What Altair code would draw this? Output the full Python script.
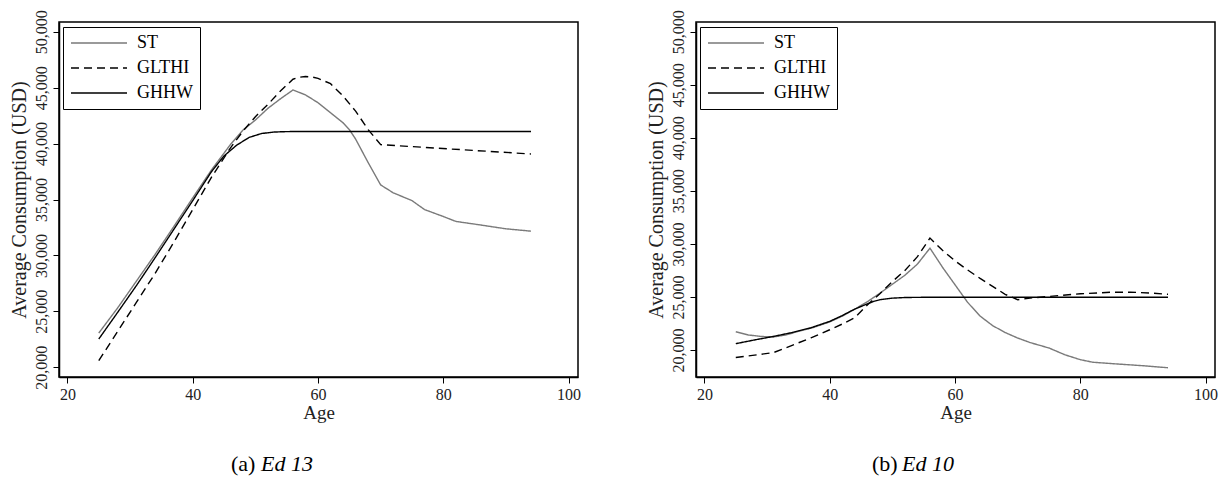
import altair as alt
import pandas as pd

SERIES = ["ST", "GLTHI", "GHHW"]
COLORS = ["#7a7a7a", "#000000", "#000000"]
DASHES = [[1, 0], [8, 5], [1, 0]]

# Panel (a) Ed 13
ST_A_AGE = [25, 28, 31, 34, 37, 40, 43, 46, 48, 50, 52, 54, 56, 58, 60, 62, 63, 64, 65, 66, 68, 70, 72, 75, 77, 80, 82, 85,
            90, 94]
ST_A_VAL = [23060, 25300, 27700, 30100, 32600, 35150, 37650, 39900, 41200, 42100, 43150, 44000, 44790, 44350, 43650, 42750,
            42300, 41850, 41250, 40400, 38300, 36300, 35600, 34900, 34100, 33480, 33040, 32800, 32380, 32170]
GLTHI_A_AGE = [25, 28, 31, 34, 37, 40, 43, 46, 48, 50, 52, 54, 56, 57, 58, 59, 60, 62, 64, 66, 68, 70, 94]
GLTHI_A_VAL = [20590, 23200, 25800, 28400, 31200, 34100, 37000, 39600, 41100, 42400, 43500, 44700, 45750, 45930, 46000, 45950,
               45830, 45350, 44250, 42900, 41250, 39900, 39070]
GHHW_A_AGE = [25, 28, 31, 34, 37, 40, 43, 45, 47, 49, 51, 53, 55, 58, 94]
GHHW_A_VAL = [22530, 24900, 27300, 29800, 32350, 34900, 37500, 38900, 39850, 40550, 40900, 41030, 41070, 41080, 41080]

# Panel (b) Ed 10
ST_B_AGE = [25, 27, 29, 31, 33, 35, 37, 40, 42, 44, 46, 48, 50, 52, 54, 56, 58, 60, 62, 64, 66, 68, 70, 72, 75, 77.5, 80, 82,
            85, 90, 94]
ST_B_VAL = [21720, 21420, 21280, 21230, 21420, 21760, 22050, 22650, 23200, 23850, 24550, 25350, 26200, 27050, 28100, 29600,
            27800, 26150, 24500, 23200, 22300, 21650, 21130, 20700, 20190, 19560, 19090, 18850, 18720, 18520, 18330]
GLTHI_B_AGE = [25, 28, 31, 34, 37, 40, 42, 44, 46, 48, 50, 52, 54, 56, 58, 60, 62, 64, 66, 68, 70, 72, 75, 80, 85, 88, 91, 94]
GLTHI_B_VAL = [19300, 19520, 19750, 20440, 21150, 21910, 22450, 23050, 24250, 25300, 26450, 27500, 28800, 30550, 29400, 28400,
               27550, 26750, 26000, 25250, 24740, 24900, 25050, 25300, 25450, 25450, 25380, 25250]
GHHW_B_AGE = [25, 28, 31, 34, 37, 40, 42, 44, 46, 47, 48, 50, 52, 55, 94]
GHHW_B_VAL = [20600, 20950, 21280, 21650, 22100, 22700, 23250, 23860, 24350, 24580, 24740, 24890, 24950, 24970, 24980]

Y_TICKS = [20000, 25000, 30000, 35000, 40000, 45000, 50000]
X_TICKS = [20, 40, 60, 80, 100]
TAGS = ["(a)", "(b)"]
NAMES = ["Ed 13", "Ed 10"]

FONT = "Liberation Serif"


def make_df(parts):
    rows = []
    for name, ages, vals in parts:
        for a, v in zip(ages, vals):
            rows.append({"series": name, "age": a, "value": v})
    return pd.DataFrame(rows)


df_a = make_df([("ST", ST_A_AGE, ST_A_VAL), ("GLTHI", GLTHI_A_AGE, GLTHI_A_VAL), ("GHHW", GHHW_A_AGE, GHHW_A_VAL)])
df_b = make_df([("ST", ST_B_AGE, ST_B_VAL), ("GLTHI", GLTHI_B_AGE, GLTHI_B_VAL), ("GHHW", GHHW_B_AGE, GHHW_B_VAL)])


def panel(df, ydom, tag, name, capx):
    leg = alt.Legend(orient="none", legendX=4, legendY=5, title=None, symbolType="stroke", symbolSize=3136,
                     symbolStrokeWidth=1.4, labelFont=FONT, labelFontSize=18, labelColor="black", labelOffset=9,
                     padding=7, strokeColor="black", fillColor="white", rowPadding=7, clipHeight=18, labelLimit=200)
    lines = alt.Chart(df).mark_line(strokeWidth=1.4, clip=True).encode(
        x=alt.X("age:Q", scale=alt.Scale(domain=[18.65, 101.5], nice=False, zero=False),
                axis=alt.Axis(values=X_TICKS, title="Age", titlePadding=1, labelPadding=3, format="d")),
        y=alt.Y("value:Q", scale=alt.Scale(domain=ydom, nice=False, zero=False),
                axis=alt.Axis(values=Y_TICKS, format=",.0f", labelAngle=-90, labelAlign="center",
                              labelBaseline="bottom", labelPadding=4, title="Average Consumption (USD)",
                              titleFontSize=20, titlePadding=4)),
        color=alt.Color("series:N", scale=alt.Scale(domain=SERIES, range=COLORS), legend=leg),
        strokeDash=alt.StrokeDash("series:N", scale=alt.Scale(domain=SERIES, range=DASHES), legend=leg),
    )
    cap1 = alt.Chart(pd.DataFrame({"t": [tag]})).mark_text(
        align="left", baseline="alphabetic", font=FONT, fontSize=22, color="black"
    ).encode(x=alt.value(capx), y=alt.value(449), text="t:N")
    cap2 = alt.Chart(pd.DataFrame({"t": [name]})).mark_text(
        align="left", baseline="alphabetic", font=FONT, fontSize=22, fontStyle="italic", color="black"
    ).encode(x=alt.value(capx + 30), y=alt.value(449), text="t:N")
    return alt.layer(lines, cap1, cap2).properties(width=519, height=355)


left = panel(df_a, [19134, 50866], TAGS[0], NAMES[0], 172)
right = panel(df_b, [17458, 50913], TAGS[1], NAMES[1], 176)

chart = alt.hconcat(left, right, spacing=63, background="white",
                    padding={"left": 0, "top": 0, "right": 0, "bottom": 0}).resolve_scale(
    color="independent", strokeDash="independent", y="independent"
).configure_view(
    stroke="black", strokeWidth=1.5
).configure_axis(
    grid=False, domainColor="black", domainWidth=1.5, tickColor="black", tickSize=6, tickWidth=1,
    labelFont=FONT, labelFontSize=16, labelColor="#222222", titleFont=FONT, titleFontSize=19,
    titleFontWeight="normal", titleColor="#222222"
)

chart.save("out.html", embed_options={"renderer": "svg", "actions": False})
